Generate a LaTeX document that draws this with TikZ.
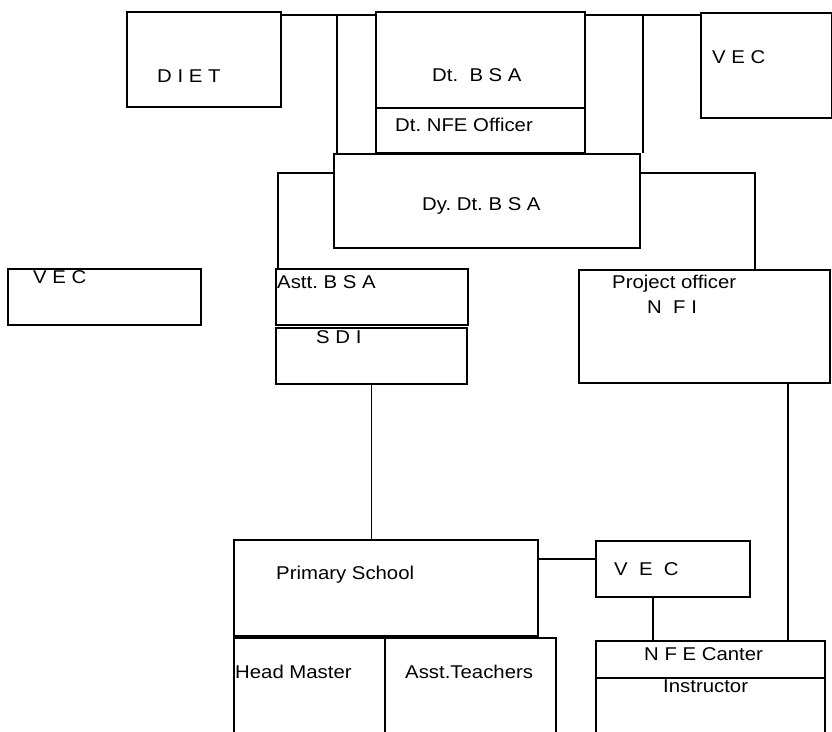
\documentclass[tikz,border=0pt]{standalone}
\usepackage{fontspec}
\setmainfont{Liberation Sans}[FakeStretch=1.1]
\begin{document}
\frenchspacing
\begin{tikzpicture}[x=1bp,y=-1bp,
  box/.style={draw, line width=1.7bp, inner sep=0pt, anchor=north west},
  lbl/.style={anchor=base west, inner sep=0pt, font=\fontsize{18.5bp}{22bp}\selectfont},
  conn/.style={line width=1.6bp}]
\useasboundingbox (0,0) rectangle (832,732);
\clip (0,0) rectangle (832,732);
\fill[white] (0,0) rectangle (832,732);
% boxes
\node[box, minimum width=154bp, minimum height=95bp]  (diet)   at (126,11)  {};
\node[box, minimum width=209bp, minimum height=96bp]  (dtbsa)  at (375,11)  {};
\node[box, minimum width=209bp, minimum height=45bp]  (nfeoff) at (375,107) {};
\node[box, minimum width=131bp, minimum height=105bp] (vec1)   at (700,12)  {};
\node[box, minimum width=306bp, minimum height=94bp]  (dy)     at (333,153) {};
\node[box, minimum width=193bp, minimum height=56bp]  (vec2)   at (7,268)   {};
\node[box, minimum width=192bp, minimum height=56bp]  (astt)   at (275,268) {};
\node[box, minimum width=191bp, minimum height=56bp]  (sdi)    at (275,327) {};
\node[box, minimum width=251bp, minimum height=113bp] (proj)   at (578,269) {};
\node[box, minimum width=304bp, minimum height=96bp]  (prim)   at (233,539) {};
\node[box, minimum width=151bp, minimum height=110bp] (head)   at (233,637) {};
\node[box, minimum width=171bp, minimum height=110bp] (asst)   at (384,637) {};
\node[box, minimum width=154bp, minimum height=56bp]  (vec3)   at (595,540) {};
\node[box, minimum width=229bp, minimum height=37bp]  (nfec)   at (595,640) {};
\node[box, minimum width=229bp, minimum height=70bp]  (instr)  at (595,677) {};
% helper coordinates
\coordinate (bus) at (0,15);
\coordinate (branch) at (0,173);
\coordinate (pv) at (0,559);
\coordinate (lv) at ([xshift=4bp]dy.north west);
\coordinate (rv) at ([xshift=2bp]dy.north east);
\coordinate (asttin) at ([xshift=3bp]astt.north west);
\coordinate (projin) at ([xshift=177bp]proj.north west);
\coordinate (projout) at ([xshift=210bp]proj.south west);
\coordinate (vo) at ([xshift=58bp]vec3.south west);
% connectors
\draw[conn] (diet.east |- bus) -- (dtbsa.west |- bus);
\draw[conn] (dtbsa.east |- bus) -- (vec1.west |- bus);
\draw[conn] (lv |- bus) -- (lv);
\draw[conn] (rv |- bus) -- (rv);
\draw[conn] (dy.west |- branch) -| (asttin);
\draw[conn] (dy.east |- branch) -| (projin);
\draw[conn] (sdi.south) -- (sdi.south |- prim.north);
\draw[conn] (projout) -- (projout |- nfec.north);
\draw[conn] (prim.east |- pv) -- (vec3.west |- pv);
\draw[conn] (vo) -- (vo |- nfec.north);
% labels
\node[lbl] (tdiet)   at (157,83)  {D I E T};
\node[lbl] (tdtbsa)  at (432,82)  {Dt.\ \ B S A};
\node[lbl] (tnfeoff) at (395,132) {Dt. NFE Officer};
\node[lbl] (tvec1)   at (712,64)  {V E C};
\node[lbl] (tdy)     at (422,210) {Dy. Dt. B S A};
\node[lbl] (tvec2)   at (33,283)  {V E C};
\node[lbl] (tastt)   at (277,288) {Astt. B S A};
\node[lbl] (tsdi)    at (316,343) {S D I};
\node[lbl] (tproj)   at (612,288) {Project officer};
\node[lbl] (tnfi)    at (647,313) {N\ \ F I};
\node[lbl] (tprim)   at (276,579) {Primary School};
\node[lbl] (thead)   at (235,678) {Head Master};
\node[lbl] (tasstt)  at (405,678) {Asst.Teachers};
\node[lbl] (tvec3)   at (614,575) {V\ \ E\ \ C};
\node[lbl] (tnfec)   at (644,660) {N F E Canter};
\node[lbl] (tinstr)  at (663,692) {Instructor};
\end{tikzpicture}
\end{document}
